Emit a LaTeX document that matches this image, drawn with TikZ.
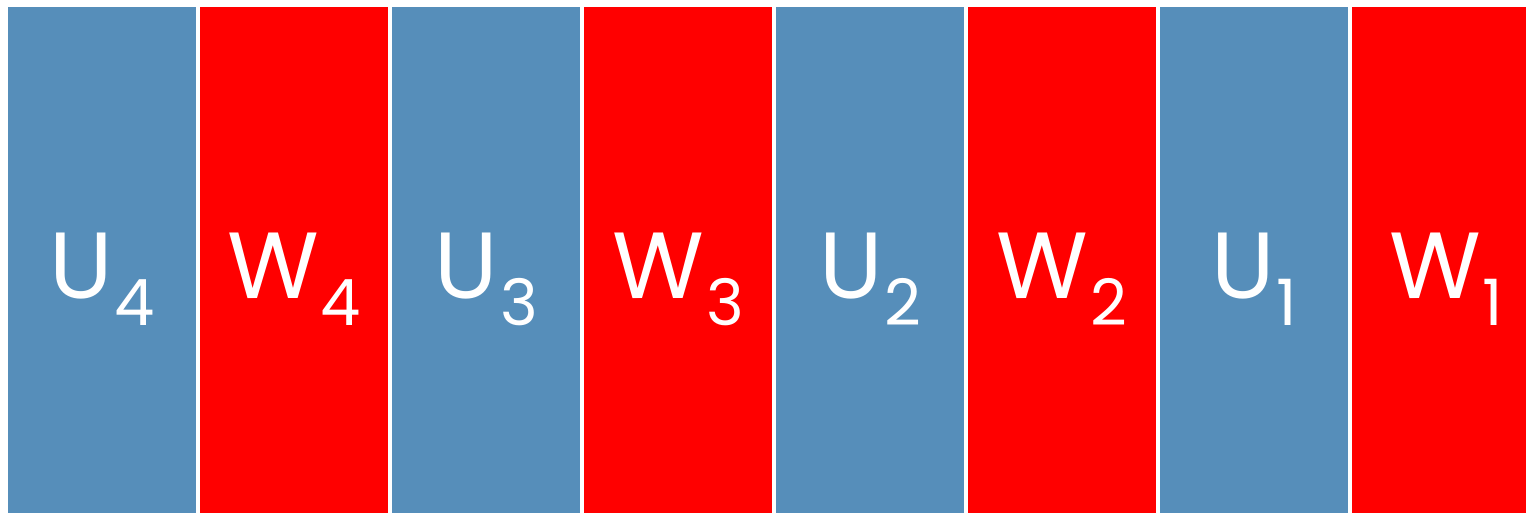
\documentclass[tikz,border=0pt]{standalone}
\usepackage{fontspec}
\setmainfont{Poppins}

\definecolor{uBlue}{RGB}{86,142,186}
\colorlet{wRed}{red}

\tikzset{
  strip/.style={rectangle, inner sep=0pt, minimum width=188pt, minimum height=506pt, anchor=north west},
  tag/.style={text=white, inner sep=0pt, anchor=base, font=\fontsize{94}{94}\selectfont},
}
% large, lowered index as in the original slides
\newcommand{\lowidx}[1]{\hspace{2pt}\raisebox{-27pt}{\fontsize{64}{64}\selectfont #1}}

\begin{document}
\begin{tikzpicture}[x=1pt, y=-1pt]

\useasboundingbox (0,0) rectangle (1526,513);
\clip (0,0) rectangle (1526,513);

% alternating strips U_k / W_k, k = 4 ... 1
\foreach \n/\k/\c [count=\i from 0] in {U/4/uBlue, W/4/wRed, U/3/uBlue, W/3/wRed,
                                        U/2/uBlue, W/2/wRed, U/1/uBlue, W/1/wRed} {
  \node[strip, fill=\c] (strip\i) at (8+192*\i, 7) {};
  \node[tag] (tag\i) at ([yshift=-38pt]strip\i.center) {\n\lowidx{\k}};
}

\end{tikzpicture}
\end{document}
